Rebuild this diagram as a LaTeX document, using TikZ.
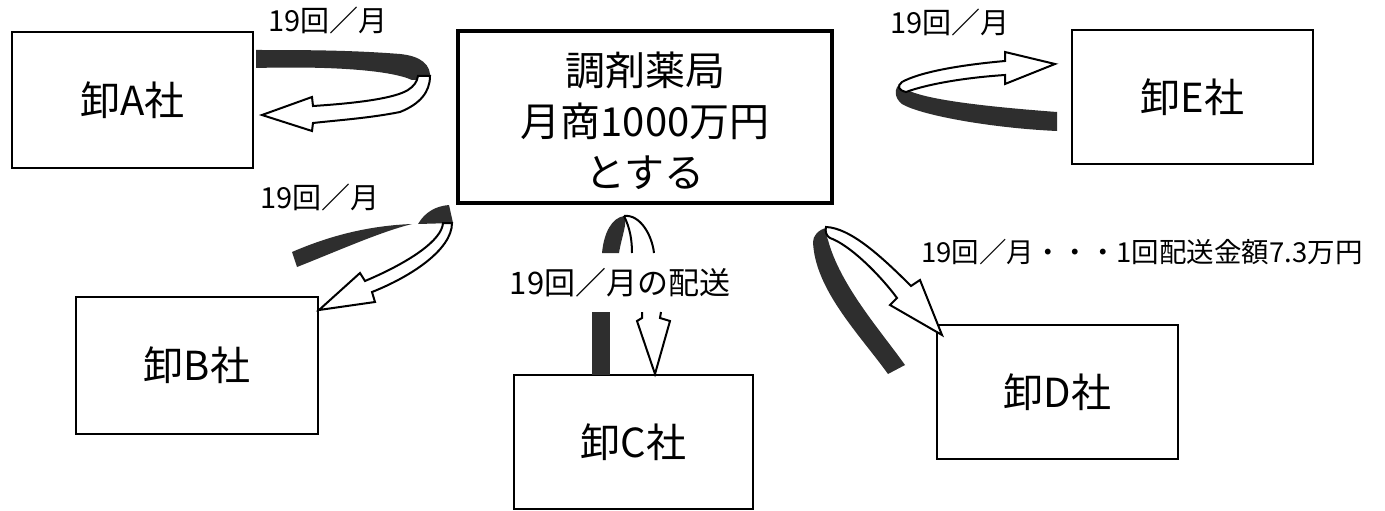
\documentclass[tikz,border=0pt]{standalone}
\usepackage{fontspec}
\setmainfont{Noto Sans CJK JP}
\begin{document}
\begin{tikzpicture}[x=1pt,y=-1pt,
  firm/.style={draw=black, line width=2.4pt, inner sep=0pt, font=\fontsize{40}{48}\selectfont},
  mainbox/.style={draw=black, line width=4.5pt, inner sep=0pt},
  lbl/.style={inner sep=0pt, font=\fontsize{29}{34}\selectfont},
  band/.style={fill=black!82},
  wa/.style={draw=black, line width=2pt, fill=white, line join=miter}]
\useasboundingbox (0,0) rectangle (1385,511);
\fill[white] (0,0) rectangle (1385,511);

% boxes
\node[firm, minimum width=241pt, minimum height=136pt] (A) at (132.5,100) {卸A社};
\node[firm, minimum width=242pt, minimum height=137pt] (B) at (197,365.5) {卸B社};
\node[firm, minimum width=239pt, minimum height=134pt] (C) at (633.5,442) {卸C社};
\node[firm, minimum width=241pt, minimum height=134pt] (D) at (1057.5,392) {卸D社};
\node[firm, minimum width=241pt, minimum height=134pt] (E) at (1192.5,97) {卸E社};
\node[mainbox, minimum width=374pt, minimum height=172pt] (P) at (645,117) {};
\node[inner sep=0pt, align=center, font=\fontsize{40}{51}\selectfont] (Pt) at (645,121) {調剤薬局\\月商1000万円\\とする};

% labels
\node[lbl] (la) at (328,20) {19回／月};
\node[lbl] (le) at (950,22) {19回／月};
\node[lbl] (lb) at (320,197) {19回／月};
\node[inner sep=0pt, font=\fontsize{31}{36}\selectfont] (lc) at (620,283) {19回／月の配送};
\node[inner sep=0pt, font=\fontsize{27.5}{32}\selectfont, anchor=west] (ld) at (921,252) {19回／月・・・1回配送金額7.3万円};

% arrow A
\fill[band] (256,50) -- (256,68) .. controls (330,66) and (390,70) .. (412,80) -- (430,80)
  .. controls (432,64) and (420,56) .. (400,54) .. controls (350,50) and (300,50) .. (256,50) -- cycle;
\path[wa] (262,115) -- (312,97) -- (313,106) .. controls (360,103) and (395,98) .. (408,90)
  .. controls (414,86) and (417,82) .. (418,76) -- (430,76) .. controls (430,92) and (420,104) .. (400,112)
  .. controls (370,118) and (340,120) .. (313,123) -- (312,131) -- cycle;

% arrow E
\fill[band] (900,84) .. controls (905,95) and (950,104) .. (1057,112) -- (1057,131)
  .. controls (990,128) and (920,115) .. (902,104) .. controls (894,98) and (894,88) .. (900,84) -- cycle;
\path[wa] (1055,64) -- (1005,52) -- (1005,61) .. controls (960,65) and (920,72) .. (902,82)
  .. controls (897,86) and (898,90) .. (906,92) .. controls (925,85) and (960,78) .. (1005,75)
  -- (1005,84) -- cycle;

% arrow B
\fill[band] (292,252) .. controls (320,240) and (360,226) .. (412,224)
  .. controls (380,232) and (340,250) .. (297,267) -- cycle;
\fill[band] (418,224) .. controls (425,212) and (436,206) .. (449,205) -- (453,223) -- cycle;
\path[wa] (443,223) .. controls (442,240) and (410,262) .. (365,281) -- (360,273) -- (319,310)
  -- (375,302) -- (372,292) .. controls (410,277) and (452,250) .. (452,223) -- cycle;

% arrow C
\fill[band] (602,253) .. controls (604,232) and (612,218) .. (624,216)
  .. controls (628,222) and (622,235) .. (619,253) -- cycle;
\fill[white] (624,216) .. controls (640,214) and (652,235) .. (654,253) -- (632,253)
  .. controls (632,240) and (630,228) .. (624,216) -- cycle;
\draw[line width=2pt] (624,216) .. controls (640,214) and (652,235) .. (654,253);
\draw[line width=2pt] (624,216) .. controls (630,228) and (632,240) .. (632,253);
\fill[band] (592,312) rectangle (610,375);
\fill[white] (642,312) -- (642,318) -- (637,321) -- (655,374) -- (670,321) -- (660,318) -- (661,312) -- cycle;
\draw[line width=2pt, line join=miter] (642,312) -- (642,318) -- (637,321) -- (655,374) -- (670,321) -- (660,318) -- (661,312);

% arrow D
\fill[band] (813,242) .. controls (815,290) and (860,335) .. (888,374) -- (905,365)
  .. controls (880,330) and (840,285) .. (828,240) .. controls (826,234) and (824,230) .. (826,228)
  .. controls (818,230) and (813,236) .. (813,242) -- cycle;
\path[wa] (826,227) .. controls (850,228) and (880,255) .. (911,286) -- (920,280) -- (942,335)
  -- (890,305) -- (897,298) .. controls (880,275) and (850,245) .. (830,238)
  .. controls (826,236) and (825,231) .. (826,227) -- cycle;
\end{tikzpicture}
\end{document}
